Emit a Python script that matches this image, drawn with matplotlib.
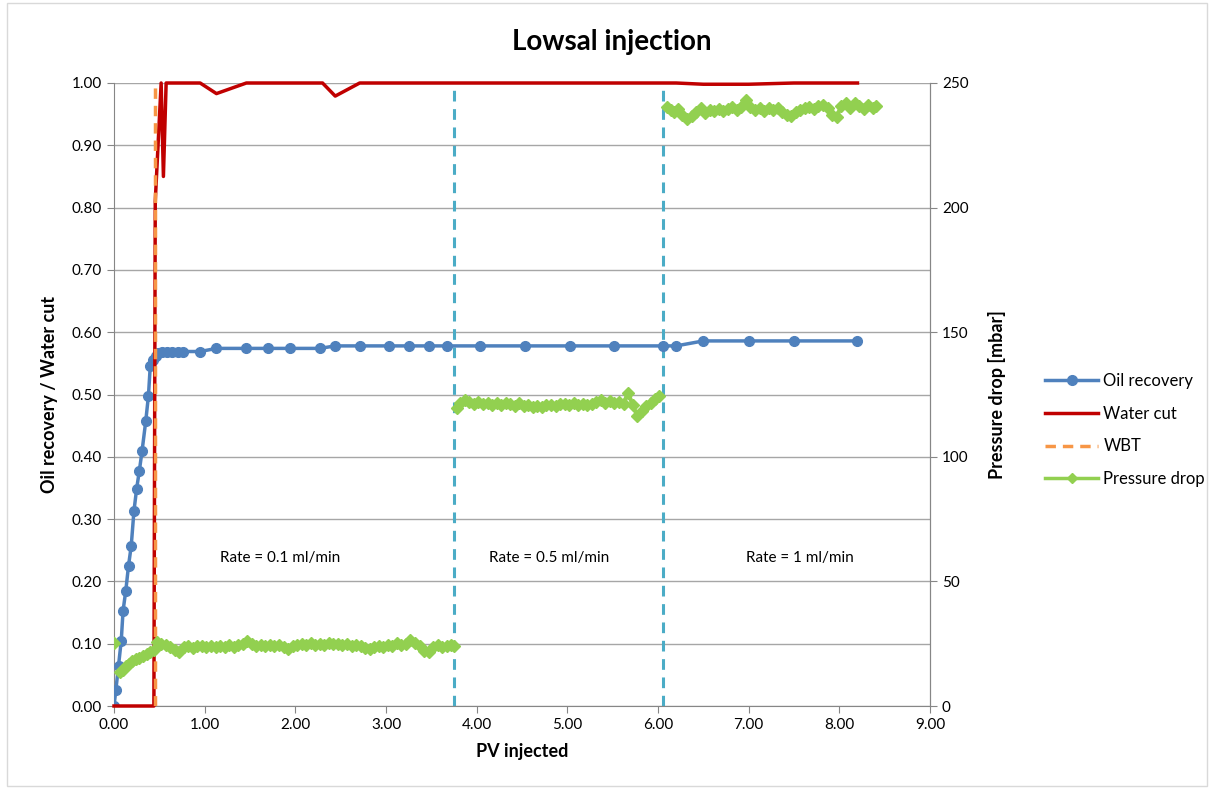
import matplotlib.pyplot as plt
from matplotlib.patches import Rectangle
from matplotlib.ticker import FormatStrFormatter

plt.rcParams["font.family"] = ["Lato", "DejaVu Sans"]

# Oil recovery (fraction) vs PV injected
pv_oil = [0.00, 0.02, 0.05, 0.08, 0.10, 0.13, 0.16, 0.19, 0.22, 0.25, 0.28, 0.31,
          0.35, 0.38, 0.40, 0.43, 0.46, 0.49, 0.53, 0.58, 0.64, 0.71, 0.76, 0.95,
          1.13, 1.46, 1.70, 1.94, 2.27, 2.44, 2.71, 3.03, 3.25, 3.47, 3.67, 4.04,
          4.53, 5.03, 5.52, 6.05, 6.20, 6.50, 7.00, 7.50, 8.20]
oil_recovery = [0.000, 0.025, 0.065, 0.105, 0.153, 0.185, 0.225, 0.257, 0.313, 0.349, 0.378, 0.410,
                0.457, 0.498, 0.546, 0.555, 0.562, 0.567, 0.569, 0.569, 0.569, 0.569, 0.569, 0.569,
                0.574, 0.574, 0.574, 0.574, 0.574, 0.578, 0.578, 0.578, 0.578, 0.578, 0.578, 0.578,
                0.578, 0.578, 0.578, 0.578, 0.578, 0.586, 0.586, 0.586, 0.586]

# Water cut
pv_wc = [0.00, 0.44, 0.455, 0.52, 0.545, 0.575, 0.95, 1.13, 1.46, 2.30, 2.44, 2.71,
         4.04, 5.03, 6.05, 6.20, 6.50, 7.00, 7.50, 8.20]
water_cut = [0.0, 0.0, 0.81, 1.0, 0.85, 1.0, 1.0, 0.983, 1.0, 1.0, 0.979, 1.0,
             1.0, 1.0, 1.0, 1.0, 0.998, 0.998, 1.0, 1.0]

wbt_pv = 0.45
rate_change_pv = [3.75, 6.05]

# Pressure drop [mbar]
pv_dp_start = [0.00]
dp_start = [25.2]

pv_dp1 = [0.07, 0.10, 0.13, 0.16, 0.20, 0.24, 0.28, 0.32, 0.36, 0.40, 0.44,
          0.47, 0.52, 0.57, 0.62, 0.67, 0.72, 0.77, 0.82, 0.87, 0.92, 0.97,
          1.02, 1.07, 1.12, 1.17, 1.22, 1.27, 1.32, 1.37, 1.42, 1.47, 1.52,
          1.57, 1.62, 1.67, 1.72, 1.77, 1.82, 1.87, 1.92, 1.97, 2.02, 2.07,
          2.12, 2.17, 2.22, 2.27, 2.32, 2.37, 2.42, 2.47, 2.52, 2.57, 2.62,
          2.67, 2.72, 2.77, 2.82, 2.87, 2.92, 2.97, 3.02, 3.07, 3.12, 3.17,
          3.22, 3.27, 3.32, 3.37, 3.42, 3.47, 3.52, 3.57, 3.62, 3.67, 3.72, 3.75]
dp1 = [13.5, 14.5, 16.0, 17.0, 18.0, 19.0, 19.3, 20.0, 21.0, 21.5, 22.5,
       25.5, 25.0, 24.3, 23.8, 22.5, 21.8, 23.6, 24.0, 23.4, 23.9, 24.2,
       23.6, 24.0, 23.5, 24.1, 23.8, 24.3, 23.7, 24.4, 24.9, 26.0, 24.8,
       24.2, 24.6, 23.9, 24.4, 24.0, 24.6, 23.8, 23.0, 23.9, 24.3, 24.8,
       24.5, 25.1, 24.6, 25.0, 24.4, 25.2, 24.7, 24.9, 24.3, 24.8, 24.1,
       24.5, 23.9, 23.4, 23.0, 23.6, 24.2, 23.8, 24.6, 24.0, 25.4, 24.3,
       25.0, 26.3, 25.2, 24.1, 22.2, 21.5, 23.8, 24.5, 23.6, 24.0, 24.3, 24.2]

pv_dp2 = [3.78, 3.82, 3.87, 3.92, 3.97, 4.02, 4.07, 4.12, 4.17, 4.22, 4.27,
          4.32, 4.37, 4.42, 4.47, 4.52, 4.57, 4.62, 4.67, 4.72, 4.77, 4.82,
          4.87, 4.92, 4.97, 5.02, 5.07, 5.12, 5.17, 5.22, 5.27, 5.32, 5.37,
          5.42, 5.47, 5.52, 5.57, 5.62, 5.67, 5.72, 5.77, 5.82, 5.87, 5.92,
          5.97, 6.01]
dp2 = [119.5, 121.5, 122.8, 122.0, 121.2, 121.8, 121.0, 121.5, 120.8, 121.6, 120.9,
       121.7, 121.2, 120.5, 121.4, 120.2, 120.8, 119.8, 120.5, 120.0, 120.6, 120.9,
       120.4, 121.1, 121.3, 120.8, 121.5, 120.9, 121.2, 120.6, 121.0, 121.8, 122.6,
       121.7, 122.3, 121.5, 121.9, 121.2, 125.8, 120.8, 116.5, 118.5, 120.5, 121.5,
       123.0, 124.5]

pv_dp3 = [6.10, 6.14, 6.18, 6.22, 6.27, 6.32, 6.37, 6.42, 6.47, 6.52, 6.57,
          6.62, 6.67, 6.72, 6.77, 6.82, 6.87, 6.92, 6.97, 7.02, 7.07, 7.12,
          7.17, 7.22, 7.27, 7.32, 7.37, 7.42, 7.47, 7.52, 7.57, 7.62, 7.67,
          7.72, 7.77, 7.82, 7.87, 7.92, 7.97, 8.02, 8.07, 8.12, 8.17, 8.22,
          8.27, 8.32, 8.37, 8.40]
dp3 = [240.5, 239.0, 238.2, 239.5, 237.0, 235.5, 236.8, 238.5, 239.8, 238.0, 239.2,
       238.6, 239.7, 238.9, 239.4, 240.2, 239.0, 240.5, 243.0, 240.2, 239.0, 239.8,
       238.7, 240.1, 239.3, 240.0, 238.4, 237.3, 236.8, 238.2, 239.0, 239.8, 240.3,
       239.6, 240.6, 241.2, 239.9, 237.3, 236.5, 240.6, 241.8, 240.0, 242.0, 240.8,
       239.5, 241.3, 240.0, 240.8]

rate_labels = ["Rate = 0.1 ml/min", "Rate = 0.5 ml/min", "Rate = 1 ml/min"]
rate_label_pv = [1.83, 4.80, 7.57]

blue = "#4F81BD"
red = "#C00000"
orange = "#F79646"
green = "#92D050"
cyan = "#4BACC6"
axis_grey = "#868686"

fig = plt.figure(figsize=(12.12, 7.91), dpi=100)
fig.patches.append(Rectangle((0.006, 0.006), 0.99, 0.99, transform=fig.transFigure,
                             fill=False, edgecolor="#d9d9d9", linewidth=1))
ax = fig.add_axes([114 / 1212, 1 - 706 / 791, (930 - 114) / 1212, (706 - 83) / 791])
ax2 = ax.twinx()

ax.set_xlim(0, 9)
ax.set_ylim(0, 1)
ax2.set_ylim(0, 250)
ax.set_xticks([i * 1.0 for i in range(10)])
ax.set_yticks([i / 10 for i in range(11)])
ax2.set_yticks([0, 50, 100, 150, 200, 250])
ax.xaxis.set_major_formatter(FormatStrFormatter("%.2f"))
ax.yaxis.set_major_formatter(FormatStrFormatter("%.2f"))

ax.grid(True, axis="y", color="#a6a6a6", linewidth=1)
ax.set_axisbelow(True)
for a in (ax, ax2):
    a.spines["top"].set_visible(False)
    for s in ("left", "right", "bottom"):
        a.spines[s].set_color(axis_grey)
    a.tick_params(colors=axis_grey, labelcolor="black", labelsize=11, length=5, direction="out")
ax2.spines["left"].set_visible(False)
ax2.spines["bottom"].set_visible(False)

for x in rate_change_pv:
    ax.plot([x, x], [0, 1], color=cyan, linestyle=(0, (3.5, 2.5)), linewidth=2.2, zorder=2)

ax.plot(pv_oil, oil_recovery, color=blue, linewidth=2.5, marker="o", markersize=7,
        label="Oil recovery", zorder=3)
ax.plot(pv_wc, water_cut, color=red, linewidth=2.5, label="Water cut", zorder=3,
        clip_on=False)
ax.plot([wbt_pv, wbt_pv], [0, 1], color=orange, linestyle=(0, (3, 2)), linewidth=2.5,
        label="WBT", zorder=4)

ax2.plot(pv_dp_start, dp_start, color=green, linestyle="none", marker="D", markersize=6.5)
for pv, dp in ((pv_dp1, dp1), (pv_dp2, dp2), (pv_dp3, dp3)):
    ax2.plot(pv, dp, color=green, linewidth=3, marker="D", markersize=6.5)
ax2.plot([], [], color=green, linewidth=2.5, marker="D", markersize=5, label="Pressure drop")

for x, txt in zip(rate_label_pv, rate_labels):
    ax.text(x, 0.238, txt, ha="center", va="center", fontsize=11)

fig.text(612 / 1212, 1 - 42 / 791, "Lowsal injection", ha="center", va="center",
         fontsize=20, fontweight="bold")
ax.set_xlabel("PV injected", fontsize=13, fontweight="bold", labelpad=8)
ax.set_ylabel("Oil recovery / Water cut", fontsize=13, fontweight="bold", labelpad=10)
ax2.set_ylabel("Pressure drop [mbar]", fontsize=13, fontweight="bold", labelpad=14)

h1, l1 = ax.get_legend_handles_labels()
h2, l2 = ax2.get_legend_handles_labels()
fig.legend(h1 + h2, l1 + l2, loc="center left", bbox_to_anchor=(1030 / 1212, 1 - 430 / 791),
           frameon=False, fontsize=12, handlelength=3.2, labelspacing=1.0, handletextpad=0.3)

fig.savefig("out.png", dpi=100)
